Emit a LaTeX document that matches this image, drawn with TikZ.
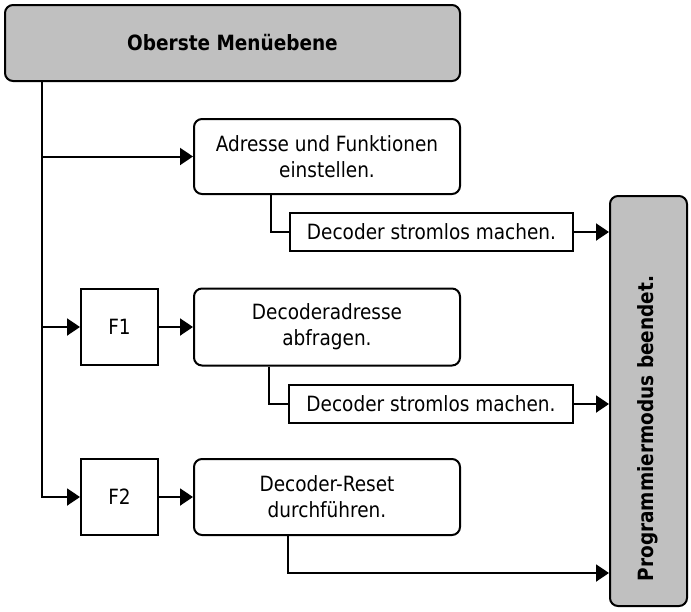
\documentclass[tikz,border=0pt]{standalone}
\usepackage{fontspec}
\setmainfont{DejaVu Sans}[FakeStretch=0.88]
\usetikzlibrary{arrows.meta,calc}
\definecolor{grayfill}{HTML}{C0C0C0}
\begin{document}
\begin{tikzpicture}[x=1pt,y=-1pt, line width=2pt,
  font=\fontsize{21}{26}\selectfont,
  box/.style={draw, inner sep=0pt, align=center},
  rbox/.style={box, rounded corners=8pt},
  boldtext/.style={font=\fontsize{21}{26}\selectfont\bfseries},
  arr/.style={-{Triangle[length=13pt,width=17pt]}}]
\useasboundingbox (0,0) rectangle (691,611);
\node[rbox, fill=grayfill, minimum width=455pt, minimum height=76pt, boldtext] (top) at (232.5,43) {Oberste Menüebene};
\node[rbox, fill=grayfill, minimum width=77pt, minimum height=410pt] (end) at (648.5,401) {};
\node[rotate=90, boldtext, inner sep=0pt] (endtext) at (648,428.5) {Programmiermodus beendet.};
\node[rbox, minimum width=266pt, minimum height=75pt] (A) at (327,156.5) {Adresse und Funktionen\\einstellen.};
\node[box, minimum width=283pt, minimum height=38pt] (S1) at (431.5,232) {Decoder stromlos machen.};
\node[box, minimum width=77pt, minimum height=76pt] (F1) at (119.5,327) {F1};
\node[rbox, minimum width=266pt, minimum height=77pt] (B) at (327,327) {Decoderadresse\\abfragen.};
\node[box, minimum width=284pt, minimum height=38pt] (S2) at (431,404) {Decoder stromlos machen.};
\node[box, minimum width=77pt, minimum height=76pt] (F2) at (119.5,497) {F2};
\node[rbox, minimum width=266pt, minimum height=76pt] (C) at (327,497) {Decoder-Reset\\durchführen.};
\coordinate (trunk) at (42,0);
% main trunk
\draw[arr] (top.south -| trunk) |- (F2.west);
\draw[arr] (trunk |- A.west) -- (A.west);
\draw[arr] (trunk |- F1.west) -- (F1.west);
\draw[arr] (F1.east) -- (B.west);
\draw[arr] (F2.east) -- (C.west);
% to stromlos boxes
\draw ([xshift=78pt]A.south west) |- (S1.west);
\draw ([xshift=76pt]B.south west) |- (S2.west);
\draw[arr] (S1.east) -- (S1.east -| end.west);
\draw[arr] (S2.east) -- (S2.east -| end.west);
\draw[arr] ([xshift=95pt]C.south west) |- ($(end.south west)+(0,-34)$);
\end{tikzpicture}
\end{document}
